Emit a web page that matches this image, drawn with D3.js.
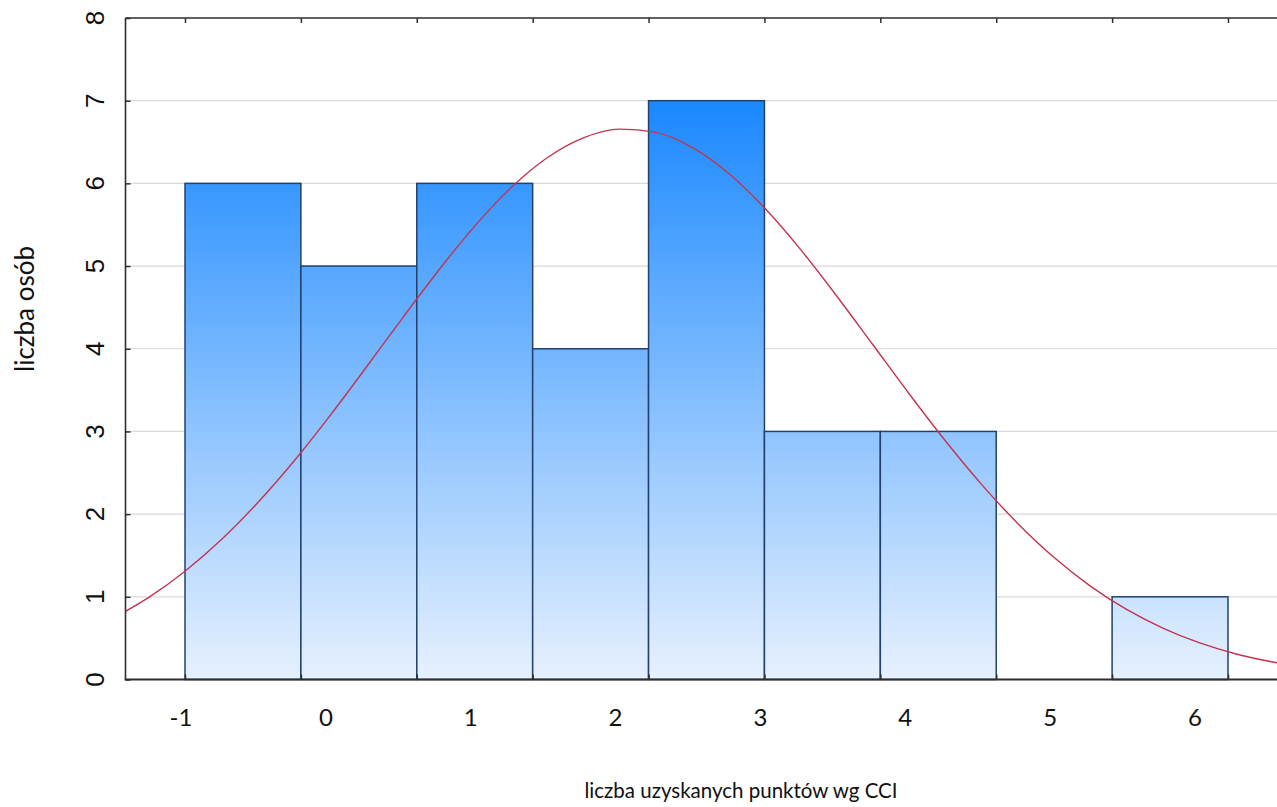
<!DOCTYPE html>
<html>
<head>
<meta charset="utf-8">
<script src="https://d3js.org/d3.v7.min.js"></script>
<style>
  body { margin: 0; background: #ffffff; }
  svg { display: block; }
</style>
</head>
<body>
<svg id="chart" width="1277" height="807"></svg>
<script>
// ---- data ----
const binEdges = [-1, -0.2, 0.6, 1.4, 2.2, 3.0, 3.8, 4.6, 5.4, 6.2];
const counts   = [6, 5, 6, 4, 7, 3, 3, 0, 1];
const xTickValues = [-1, 0, 1, 2, 3, 4, 5, 6];
const yTickValues = [0, 1, 2, 3, 4, 5, 6, 7, 8];
// fitted normal curve
const curveX = [-1.5, -1.25, -1.0, -0.75, -0.5, -0.25, 0, 0.25, 0.5, 0.75, 1.0, 1.25, 1.5, 1.75, 2.0,
                2.25, 2.5, 2.75, 3.0, 3.25, 3.5, 3.75, 4.0, 4.25, 4.5, 4.75, 5.0, 5.25, 5.5, 5.75,
                6.0, 6.25, 6.5, 6.75];
const curveY = [0.737, 0.993, 1.310, 1.690, 2.135, 2.637, 3.189, 3.773, 4.368, 4.947, 5.483, 5.947, 6.310, 6.551, 6.656,
                6.617, 6.436, 6.126, 5.705, 5.199, 4.635, 4.045, 3.453, 2.884, 2.357, 1.885, 1.475, 1.130, 0.847, 0.621,
                0.445, 0.312, 0.215, 0.144];
const xTitle = "liczba uzyskanych punktów wg CCI";
const yTitle = "liczba osób";

// ---- layout ----
const svg = d3.select("#chart");
const P = { left: 125.5, right: 1290, top: 18, bottom: 679.5 };
const x = d3.scaleLinear().domain([-1, 6.2]).range([185, 1228]);
const y = d3.scaleLinear().domain([0, 8]).range([679.5, 18]);

const defs = svg.append("defs");
const grad = defs.append("linearGradient").attr("id", "barGrad")
  .attr("gradientUnits", "userSpaceOnUse")
  .attr("x1", 0).attr("x2", 0).attr("y1", y(7)).attr("y2", y(0));
grad.append("stop").attr("offset", "0%").attr("stop-color", "#1a88ff");
grad.append("stop").attr("offset", "100%").attr("stop-color", "#e7f1fe");
defs.append("clipPath").attr("id", "plotClip").append("rect")
  .attr("x", P.left).attr("y", P.top).attr("width", P.right - P.left).attr("height", P.bottom - P.top);

// plot background
svg.append("rect").attr("x", P.left).attr("y", P.top)
  .attr("width", P.right - P.left).attr("height", P.bottom - P.top)
  .attr("fill", "#ffffff");

// grid
svg.append("g").selectAll("line")
  .data(yTickValues.filter(v => v > 0 && v < 8))
  .join("line")
  .attr("x1", P.left).attr("x2", P.right)
  .attr("y1", d => y(d)).attr("y2", d => y(d))
  .attr("stroke", "#d9d9d9").attr("stroke-width", 1.2);

// bars
const bars = counts.map((c, i) => ({ x0: binEdges[i], x1: binEdges[i + 1], c })).filter(d => d.c > 0);
svg.append("g").selectAll("rect")
  .data(bars)
  .join("rect")
  .attr("x", d => x(d.x0)).attr("width", d => x(d.x1) - x(d.x0))
  .attr("y", d => y(d.c)).attr("height", d => y(0) - y(d.c))
  .attr("fill", "url(#barGrad)")
  .attr("stroke", "#22416d").attr("stroke-width", 1.5);

// normal curve
const line = d3.line().x(d => x(d[0])).y(d => y(d[1])).curve(d3.curveMonotoneX);
svg.append("path")
  .datum(curveX.map((v, i) => [v, curveY[i]]))
  .attr("clip-path", "url(#plotClip)")
  .attr("d", line)
  .attr("fill", "none").attr("stroke", "#c2344f").attr("stroke-width", 1.4);

// axes ticks (inward)
const axisColor = "#2e2e2e";
function styleAxis(g) {
  g.select(".domain").remove();
  g.selectAll(".tick line").attr("stroke", axisColor).attr("stroke-width", 1.5);
  g.selectAll(".tick text").remove();
}
svg.append("g").attr("transform", `translate(${P.left},0)`)
  .call(d3.axisRight(y).tickValues(yTickValues).tickSize(5).tickSizeOuter(0))
  .call(styleAxis);
svg.append("g").attr("transform", `translate(0,${P.top})`)
  .call(d3.axisBottom(x).tickValues(binEdges).tickSize(5).tickSizeOuter(0))
  .call(styleAxis);
svg.append("g").attr("transform", `translate(0,${P.bottom})`)
  .call(d3.axisTop(x).tickValues(binEdges).tickSize(5).tickSizeOuter(0))
  .call(styleAxis);

// frame lines
svg.append("line").attr("x1", P.left).attr("x2", P.left).attr("y1", P.top).attr("y2", P.bottom)
  .attr("stroke", axisColor).attr("stroke-width", 1.6);
svg.append("line").attr("x1", P.left).attr("x2", P.right).attr("y1", P.top).attr("y2", P.top)
  .attr("stroke", axisColor).attr("stroke-width", 1.6);
svg.append("line").attr("x1", P.left - 0.8).attr("x2", P.right).attr("y1", P.bottom).attr("y2", P.bottom)
  .attr("stroke", axisColor).attr("stroke-width", 2);

// x tick labels
svg.append("g").selectAll("text")
  .data(xTickValues)
  .join("text")
  .attr("x", d => x(d) - 4).attr("y", 726)
  .attr("text-anchor", "middle")
  .attr("font-family", "Lato, 'Open Sans', sans-serif").attr("font-size", 24)
  .attr("fill", "#111")
  .text(d => d3.format("d")(d).replace("−", "-"));

// y tick labels (rotated)
svg.append("g").selectAll("text")
  .data(yTickValues)
  .join("text")
  .attr("transform", d => `translate(104,${y(d)}) rotate(-90)`)
  .attr("text-anchor", "middle")
  .attr("font-family", "'Liberation Sans', Arial, sans-serif").attr("font-size", 26)
  .attr("fill", "#111")
  .text(d => d);

// titles
svg.append("text")
  .attr("x", 741).attr("y", 798)
  .attr("text-anchor", "middle")
  .attr("font-family", "Lato, 'Open Sans', sans-serif").attr("font-size", 20.5)
  .attr("fill", "#111")
  .text(xTitle);
svg.append("text")
  .attr("transform", "translate(34,309) rotate(-90)")
  .attr("text-anchor", "middle")
  .attr("font-family", "Lato, 'Open Sans', sans-serif").attr("font-size", 26)
  .attr("fill", "#111")
  .text(yTitle);
</script>
</body>
</html>
